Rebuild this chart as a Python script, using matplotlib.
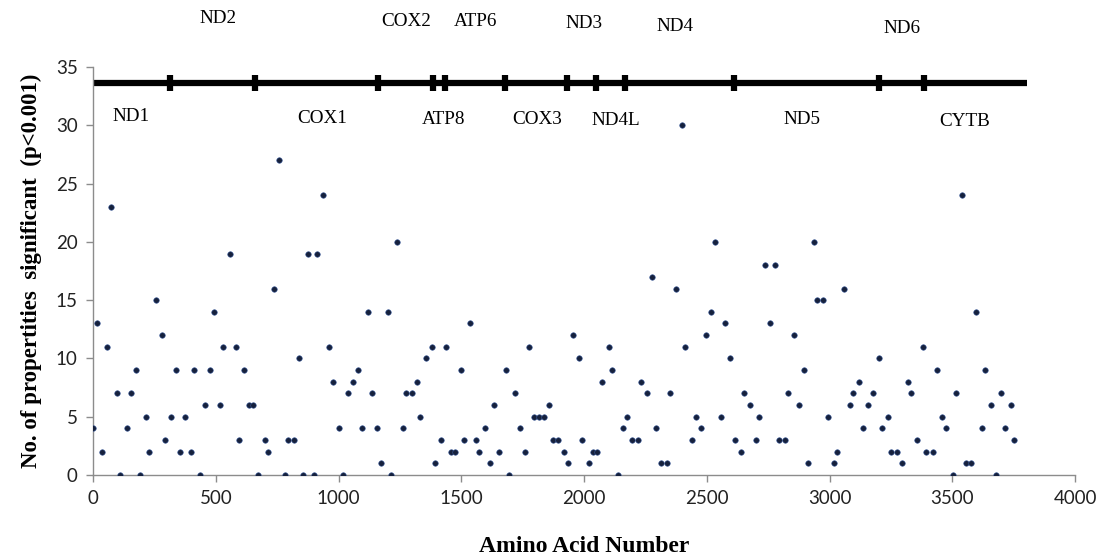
import matplotlib.pyplot as plt

# amino acid position / number of significant properties
amino_acid = [
    0, 18, 37, 56, 73, 99, 111, 137, 155, 174, 193, 217, 229, 255, 280, 293,
    317, 336, 355, 374, 399, 412, 437, 456, 475, 493, 518, 531, 556, 581, 593,
    617, 636, 650, 674, 700, 712, 737, 756, 782, 794, 818, 837, 856, 875, 900,
    913, 938, 962, 976, 1000, 1019, 1038, 1057, 1081, 1094, 1119, 1138, 1157,
    1175, 1201, 1213, 1237, 1262, 1274, 1300, 1319, 1331, 1357, 1381, 1395,
    1419, 1438, 1457, 1476, 1499, 1513, 1536, 1558, 1574, 1595, 1617, 1634,
    1655, 1683, 1696, 1720, 1740, 1758, 1777, 1798, 1815, 1837, 1857, 1875,
    1894, 1919, 1933, 1957, 1981, 1993, 2019, 2038, 2054, 2073, 2100, 2114,
    2138, 2157, 2176, 2195, 2220, 2233, 2258, 2277, 2293, 2313, 2338, 2351,
    2374, 2400, 2412, 2440, 2458, 2476, 2495, 2519, 2532, 2558, 2576, 2595,
    2614, 2639, 2652, 2676, 2700, 2713, 2738, 2757, 2776, 2795, 2819, 2831,
    2857, 2875, 2895, 2913, 2937, 2950, 2975, 2994, 3019, 3031, 3057, 3083,
    3095, 3121, 3138, 3157, 3176, 3202, 3214, 3239, 3252, 3276, 3294, 3320,
    3332, 3358, 3382, 3394, 3420, 3439, 3458, 3476, 3502, 3514, 3540, 3556,
    3578, 3596, 3621, 3633, 3659, 3677, 3697, 3715, 3740, 3753,
]
n_significant = [
    4, 13, 2, 11, 23, 7, 0, 4, 7, 9, 0, 5, 2, 15, 12, 3,
    5, 9, 2, 5, 2, 9, 0, 6, 9, 14, 6, 11, 19, 11, 3,
    9, 6, 6, 0, 3, 2, 16, 27, 0, 3, 3, 10, 0, 19, 0,
    19, 24, 11, 8, 4, 0, 7, 8, 9, 4, 14, 7, 4,
    1, 14, 0, 20, 4, 7, 7, 8, 5, 10, 11, 1,
    3, 11, 2, 2, 9, 3, 13, 3, 2, 4, 1, 6,
    2, 9, 0, 7, 4, 2, 11, 5, 5, 5, 6, 3,
    3, 2, 1, 12, 10, 3, 1, 2, 2, 8, 11, 9,
    0, 4, 5, 3, 3, 8, 7, 17, 4, 1, 1, 7,
    16, 30, 11, 3, 5, 4, 12, 14, 20, 5, 13, 10,
    3, 2, 7, 6, 3, 5, 18, 13, 18, 3, 3, 7,
    12, 6, 9, 1, 20, 15, 15, 5, 1, 2, 16, 6,
    7, 8, 4, 6, 7, 10, 4, 5, 2, 2, 1, 8,
    7, 3, 11, 2, 2, 9, 5, 4, 0, 7, 24, 1,
    1, 14, 4, 9, 6, 0, 7, 4, 6, 3,
]

# gene map drawn across the top of the plot
gene_bounds = [313, 658, 1160, 1384, 1434, 1677, 1929, 2047, 2167, 2609, 3203, 3385]
gene_end = 3805
genes_top = ["ND2", "COX2", "ATP6", "ND3", "ND4", "ND6"]
genes_top_x = [508, 1277, 1558, 2001, 2371, 3295]
genes_top_y = [39.2, 38.9, 38.9, 38.7, 38.5, 38.3]
genes_low = ["ND1", "COX1", "ATP8", "COX3", "ND4L", "ND5", "CYTB"]
genes_low_x = [153, 935, 1427, 1810, 2131, 2888, 3552]
genes_low_y = [30.8, 30.6, 30.5, 30.5, 30.4, 30.5, 30.3]

BAR_Y = 33.65
SERIF = ["Liberation Serif", "DejaVu Serif"]

fig = plt.figure(figsize=(11.1, 5.59), dpi=100)
ax = fig.add_axes([0.0838, 0.1503, 0.8847, 0.7297])

ax.scatter(amino_acid, n_significant, s=16, color="#16213d",
           edgecolors="#3a5a9a", linewidths=0.4, zorder=3)

# gene bar with boundary ticks
ax.plot([0, gene_end], [BAR_Y, BAR_Y], color="black", lw=4.5,
        solid_capstyle="butt", zorder=2, clip_on=False)
for b in gene_bounds:
    ax.plot([b, b], [BAR_Y - 0.7, BAR_Y + 0.7], color="black", lw=4.5,
            solid_capstyle="butt", zorder=2, clip_on=False)

for name, x, y in zip(genes_top, genes_top_x, genes_top_y):
    ax.text(x, y, name, ha="center", va="center", fontsize=13.8,
            family=SERIF, clip_on=False)
for name, x, y in zip(genes_low, genes_low_x, genes_low_y):
    ax.text(x, y, name, ha="center", va="center", fontsize=13.8,
            family=SERIF, clip_on=False)

ax.set_xlim(0, 4000)
ax.set_ylim(0, 35)
ax.set_xticks(range(0, 4001, 500))
ax.set_yticks(range(0, 36, 5))

for side in ("top", "right"):
    ax.spines[side].set_visible(False)
for side in ("left", "bottom"):
    ax.spines[side].set_color("#8c8c8c")
    ax.spines[side].set_linewidth(1.0)
ax.tick_params(axis="both", direction="out", length=5, color="#8c8c8c",
               width=1.0, labelsize=13.5, pad=6)
for lbl in ax.get_xticklabels() + ax.get_yticklabels():
    lbl.set_family(["Lato", "DejaVu Sans"])
    lbl.set_color("#222222")

ax.set_xlabel("Amino Acid Number", fontsize=17, fontweight="bold",
              family=SERIF, labelpad=21)
ax.set_ylabel("No. of propertities  significant  (p<0.001)", fontsize=16.5,
              fontweight="bold", family=SERIF, labelpad=10)

fig.savefig("out.png", dpi=100)
